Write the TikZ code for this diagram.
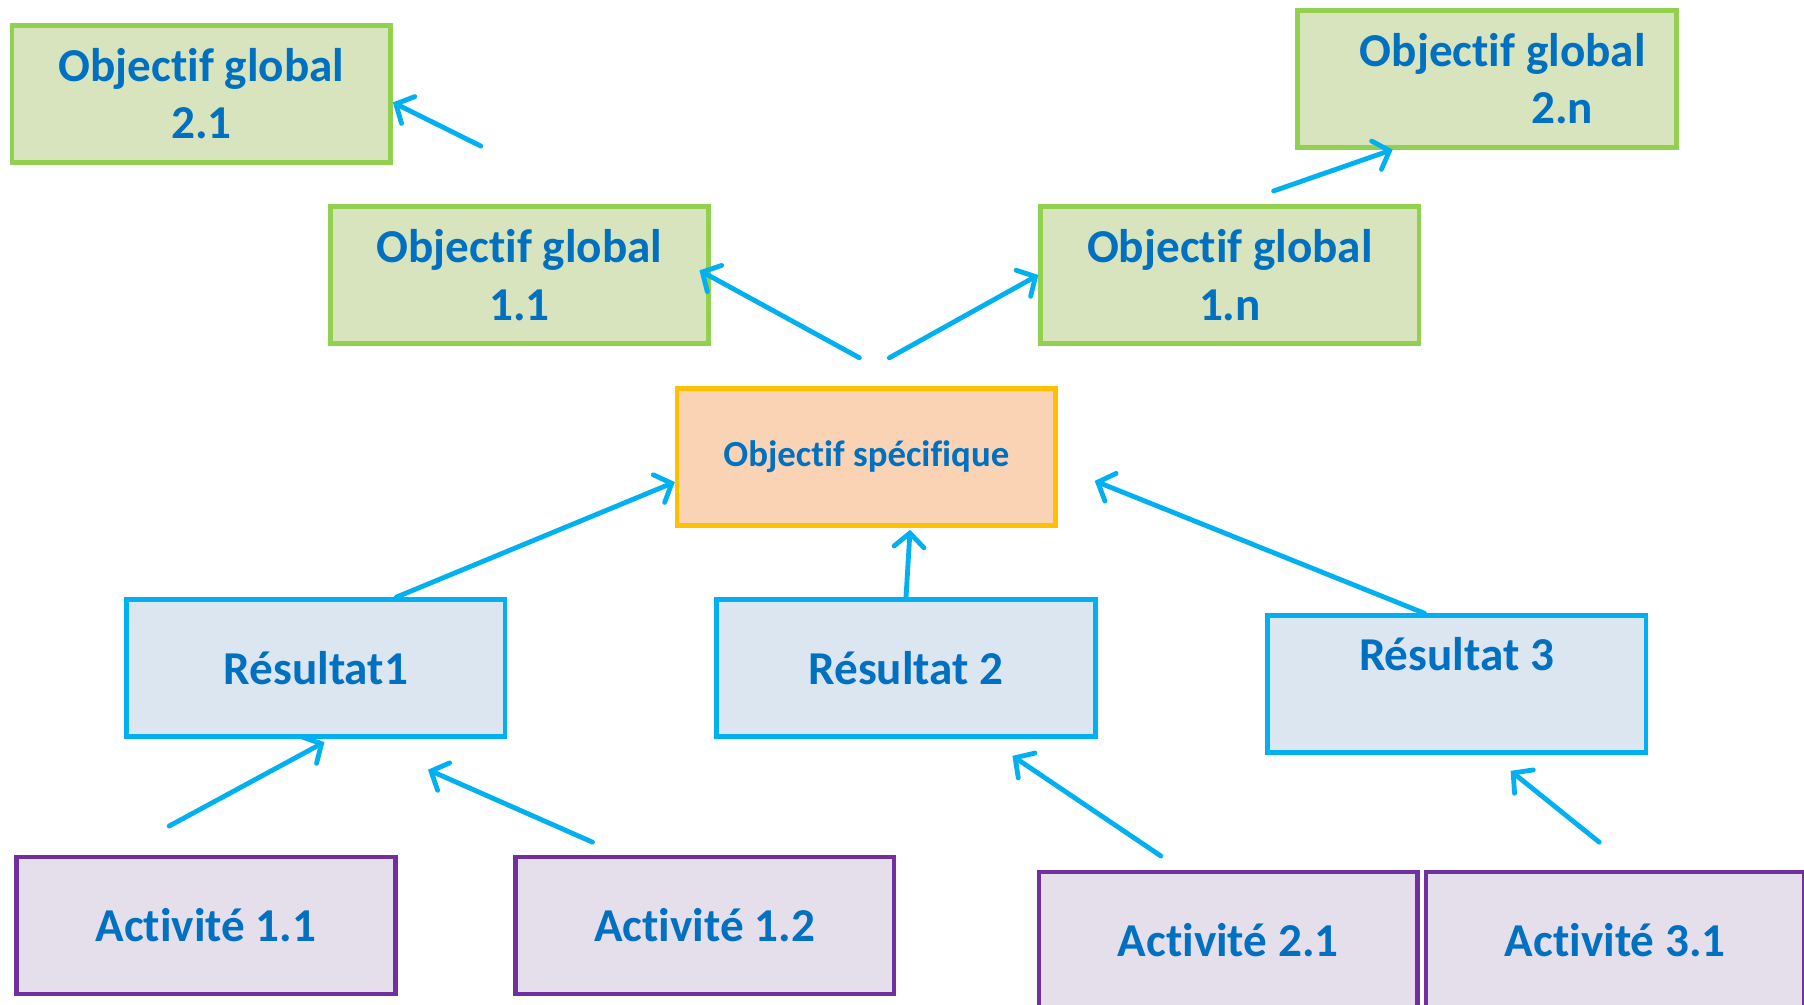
\documentclass[tikz,border=0pt]{standalone}
\usepackage{fontspec}
\setmainfont{Carlito}[Ligatures=NoCommon]
\usetikzlibrary{arrows.meta,calc}
\definecolor{txtblue}{HTML}{0070C0}
\definecolor{arrblue}{HTML}{00B0F0}
\definecolor{ogline}{HTML}{92D050}
\definecolor{ogfill}{HTML}{D7E4BD}
\definecolor{osline}{HTML}{FFC000}
\definecolor{osfill}{HTML}{F9D3B4}
\definecolor{resline}{HTML}{00B0F0}
\definecolor{resfill}{HTML}{DCE6F1}
\definecolor{actline}{HTML}{7030A0}
\definecolor{actfill}{HTML}{E5DFEC}
\tikzset{
  box/.style={draw, line width=4pt, rectangle, inner sep=0pt,
    minimum width=329pt, minimum height=119pt, text=txtblue,
    font=\fontsize{41}{50}\selectfont\bfseries, align=center},
  globalbox/.style={box, draw=ogline, fill=ogfill},
  specbox/.style={box, draw=osline, fill=osfill, font=\fontsize{32}{40}\selectfont\bfseries},
  resbox/.style={box, draw=resline, fill=resfill},
  actbox/.style={box, draw=actline, fill=actfill},
  conn/.style={draw=arrblue, line width=4.2pt, line cap=round,
    -{Straight Barb[length=12pt,width=26pt,line cap=round]}}
}
\begin{document}
\begin{tikzpicture}[x=1pt,y=-1pt]
\useasboundingbox (0,0) rectangle (1568,873);
\clip (0,0) rectangle (1568,873);

% global objectives
\node[globalbox] (og21) at (175,81.5) {Objectif global\\2.1};
\node[globalbox] (og11) at (451.5,239) {Objectif global\\1.1};
\node[globalbox] (og1n) at (1069,239) {Objectif global\\1.n};
\node[globalbox] (og2n) at (1292.5,68.5)
  {\makebox[329pt][l]{\hspace{54pt}Objectif global}\\
   \makebox[329pt][l]{\hspace{203pt}2.n}};

% specific objective
\node[specbox] (os) at (753,397) {Objectif spécifique};

% results
\node[resbox] (r1) at (274.5,580.5) {Résultat1};
\node[resbox] (r2) at (787.5,580.5) {Résultat 2};
\node[resbox, text depth=52pt] (r3) at (1266,594.5) {Résultat 3};

% activities
\node[actbox] (a11) at (179,804.5) {Activité 1.1};
\node[actbox] (a12) at (612.5,804.5) {Activité 1.2};
\node[actbox] (a21) at (1067.5,817.5) {Activité 2.1};
\node[actbox] (a31) at (1404,817.5) {Activité 3.1};

% free arrow tails
\coordinate (t21) at (418,127);
\coordinate (t11) at (747,311);
\coordinate (t1n) at (773,311);
\coordinate (t2n) at (1107,166);
\coordinate (ta11) at (147,718);
\coordinate (ta12) at (515,732);
\coordinate (ta21) at (1009,744);
\coordinate (ta31) at (1390,732);

% connectors
\draw[conn] (t21) -- ([yshift=-7.5pt]og21.east);
\draw[conn] (t11) -- ([xshift=-10pt,yshift=4pt]og11.east);
\draw[conn] (t1n) -- (og1n.west);
\draw[conn] (t2n) -- ([xshift=-82pt]og2n.south);
\draw[conn] ([xshift=70pt]r1.north) -- ([yshift=-22pt]os.west);
\draw[conn] (r2.north) -- ([xshift=38pt,yshift=-2pt]os.south);
\draw[conn] ([xshift=-28pt]r3.north) -- ([xshift=32pt,yshift=-21pt]os.east);
\draw[conn] (ta11) -- ([xshift=7.5pt,yshift=-3pt]r1.south);
\draw[conn] (ta12) -- ([xshift=97.5pt,yshift=-27pt]r1.south);
\draw[conn] (ta21) -- ([xshift=92.5pt,yshift=-15pt]r2.south);
\draw[conn] (ta31) -- ([xshift=47pt,yshift=-14pt]r3.south);
\end{tikzpicture}
\end{document}
